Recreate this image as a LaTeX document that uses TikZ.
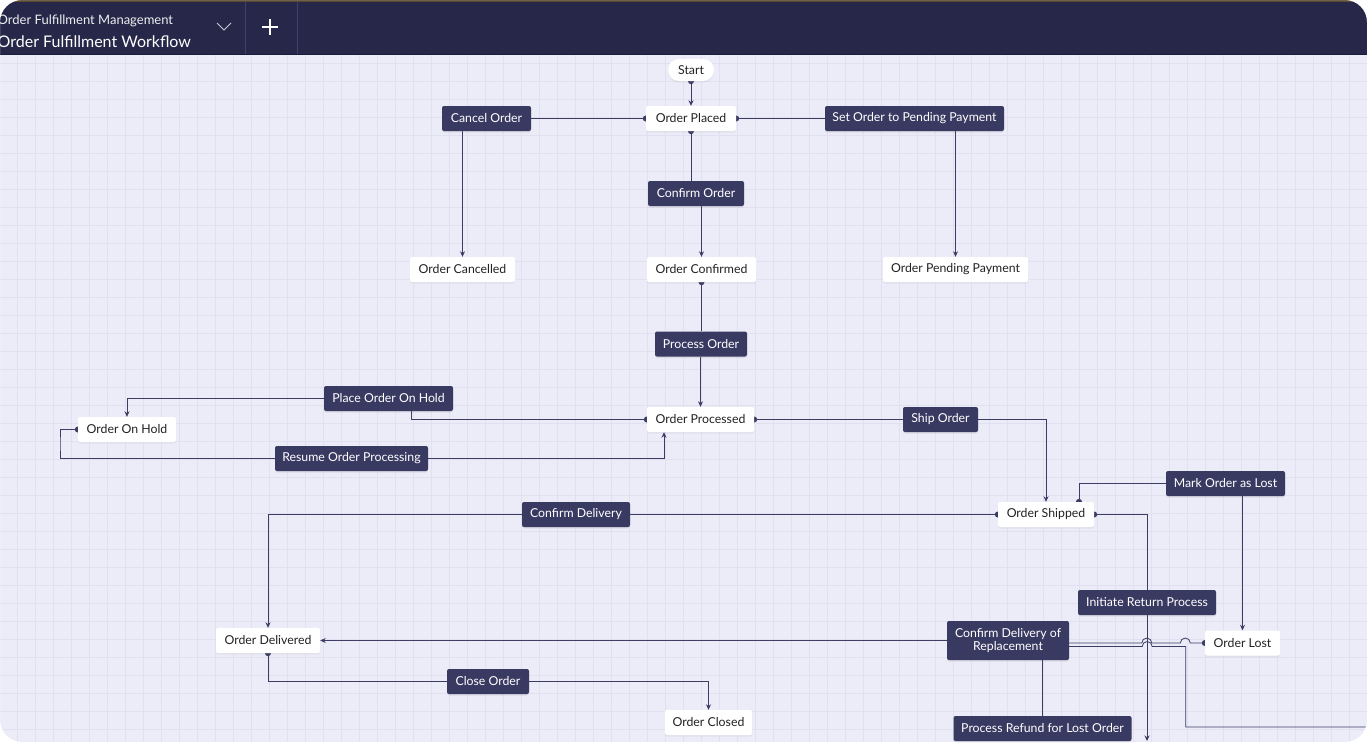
\documentclass[tikz,border=0pt]{standalone}
\usepackage{fontspec}
\setmainfont{Lato}
\usetikzlibrary{arrows.meta,shadows,calc}
\pgfdeclarelayer{bg}
\pgfdeclarelayer{edges}
\pgfsetlayers{bg,edges,main}
\definecolor{bgc}{HTML}{ECEBF8}
\definecolor{gridc}{HTML}{E1E0F1}
\definecolor{hdr}{HTML}{272849}
\definecolor{hdrline}{HTML}{1B1C38}
\definecolor{hdrdiv}{HTML}{40416A}
\definecolor{topline}{HTML}{5B4A30}
\definecolor{tbox}{HTML}{393A62}
\definecolor{lnc}{HTML}{3C3C64}
\definecolor{txt}{HTML}{222222}
\tikzset{
  st/.style={fill=white, rounded corners=2pt, minimum height=25pt, inner sep=0pt,
    font=\fontsize{12.3}{14}\selectfont, text=txt,
    drop shadow={shadow xshift=0pt, shadow yshift=-1.5pt, opacity=0.10}},
  tr/.style={fill=tbox, rounded corners=2pt, minimum height=25pt, inner sep=0pt,
    font=\fontsize{12.3}{14}\selectfont, text=white,
    drop shadow={shadow xshift=0pt, shadow yshift=-1.5pt, opacity=0.15}},
  ln/.style={draw=lnc, line width=0.8pt},
  arr/.style={ln, -{Stealth[length=5.5pt,width=5pt]}},
  sdot/.style={fill=lnc},
}
\begin{document}
\begin{tikzpicture}[x=1pt,y=-1pt]
\useasboundingbox (0,0) rectangle (1367,742);
% background grid
\begin{pgfonlayer}{bg}
\fill[bgc] (0,54) rectangle (1367,742);
\foreach \i in {0,...,75} \draw[gridc, line width=0.8pt] ({17.5+18*\i},54) -- ({17.5+18*\i},742);
\foreach \j in {3,...,41} \draw[gridc, line width=0.8pt] (0,{9+18*\j}) -- (1367,{9+18*\j});
\end{pgfonlayer}

% header
\fill[hdr] (0,0) rectangle (1367,54);
\fill[topline] (0,0) rectangle (1367,1.5);
\draw[hdrline, line width=1pt] (0,54) -- (1367,54);
\draw[hdrdiv, line width=0.8pt] (245,1.5) -- (245,54);
\draw[hdrdiv, line width=0.8pt] (297,1.5) -- (297,54);
\draw[color=white!75!hdr, line width=1pt] (217,23) -- (224,30) -- (231,23);
\draw[white, line width=1.2pt] (262,27) -- (278,27) (270,19) -- (270,35);
\node[anchor=base west, inner sep=0pt, font=\fontsize{13}{15}\selectfont, text=white!92!hdr] (h1) at (-2.5,24) {Order Fulfillment Management};
\node[anchor=base west, inner sep=0pt, font=\fontsize{16}{18}\selectfont, text=white] (h2) at (-2.5,47) {Order Fulfillment Workflow};

% nodes
\node[st, minimum width=46pt, minimum height=22pt, rounded corners=11pt] (start) at (691,70) {Start};
\node[st, minimum width=90pt] (op) at (691,118.5) {Order Placed};
\node[tr, minimum width=89pt] (co) at (486.5,118.5) {Cancel Order};
\node[tr, minimum width=179pt] (sp) at (914.5,118.5) {Set Order to Pending Payment};
\node[tr, minimum width=96pt] (cfo) at (696,193.5) {Confirm Order};
\node[st, minimum width=105pt] (oc) at (462.5,269.5) {Order Cancelled};
\node[st, minimum width=109pt] (ocf) at (701.5,269.5) {Order Confirmed};
\node[st, minimum width=145pt] (opp) at (955.5,269.5) {Order Pending Payment};
\node[tr, minimum width=92pt] (po) at (701,344) {Process Order};
\node[tr, minimum width=129pt] (ph) at (388.5,398.5) {Place Order On Hold};
\node[st, minimum width=98pt] (ooh) at (127,429.5) {Order On Hold};
\node[st, minimum width=107pt] (opr) at (700.5,419.5) {Order Processed};
\node[tr, minimum width=75pt] (so) at (940.5,419.5) {Ship Order};
\node[tr, minimum width=153pt] (ro) at (351.5,458.5) {Resume Order Processing};
\node[tr, minimum width=119pt] (ml) at (1225.5,483.5) {Mark Order as Lost};
\node[st, minimum width=96pt] (os) at (1046,514.5) {Order Shipped};
\node[tr, minimum width=108pt] (cd) at (576,514.5) {Confirm Delivery};
\node[tr, minimum width=138pt] (ir) at (1147,602.5) {Initiate Return Process};
\node[tr, minimum width=122pt, minimum height=39pt, align=center] (cdr) at (1008,640.5) {Confirm Delivery of\\[-1pt]Replacement};
\node[st, minimum width=75pt] (ol) at (1242.5,643) {Order Lost};
\node[st, minimum width=104pt] (od) at (268,640.5) {Order Delivered};
\node[tr, minimum width=82pt] (clo) at (488,681.5) {Close Order};
\node[st, minimum width=87pt] (ocl) at (708.5,722.5) {Order Closed};
\node[tr, minimum width=178pt] (prl) at (1042.5,728.5) {Process Refund for Lost Order};

\coordinate (lk) at (60,444);
\coordinate (ostop) at ($(os.north)+(33,0)$);
\coordinate (offb) at (1147,741);
\coordinate (offr) at (1367,727);

% connectors
\begin{pgfonlayer}{edges}
\draw[arr] (start.south) -- (op.north);
\draw[ln] (op.west) -- (co.east);
\draw[arr] (co.south -| oc.north) -- (oc.north);
\draw[ln] (op.east) -- (sp.west);
\draw[arr] (sp.south -| opp.north) -- (opp.north);
\draw[ln] (op.south) -- (op.south |- cfo.north);
\draw[arr] (cfo.south -| ocf.north) -- (ocf.north);
\draw[ln] (ocf.south) -- (ocf.south |- po.north);
\draw[arr] (po.south -| opr.north) -- (opr.north);
\draw[ln] (opr.west) -| ($(ph.south)+(22.5,0)$);
\draw[arr] (ph.west) -| (ooh.north);
\draw[ln] (ooh.west) -| (lk) |- (ro.west);
\draw[arr] (ro.east) -| ($(opr.south)+(-36.5,0)$);
\draw[ln] (opr.east) -- (so.west);
\draw[arr] (so.east) -| (os.north);
\draw[ln] (ostop) |- (ml.west);
\draw[arr] (ml.south -| ol.north) -- (ol.north);
\draw[ln] (os.west) -- (cd.east);
\draw[arr] (cd.west) -| (od.north);
\draw[ln] (os.east) -| (ir.north);
\draw[arr] (ir.south) -- (offb);
\draw[ln] (ol.west) -- ++(-14.5,0) arc[start angle=0, end angle=-180, radius=5]
  -- ++(-28.5,0) arc[start angle=0, end angle=-180, radius=5] -| (prl.north);
\draw[ln] ($(cdr.east)+(0,6)$) -- ++(73,0) arc[start angle=180, end angle=360, radius=5]
  -- ++(33.5,0) |- (offr);
\draw[arr] (cdr.west) -- (cdr.west -| od.east);
\draw[ln] (od.south) |- (clo.west);
\draw[arr] (clo.east) -| (ocl.north);
% source dots
\foreach \p in {start.south, op.west, op.east, op.south, ocf.south, opr.west, opr.east,
  ooh.west, os.west, os.east, ostop, ol.west, od.south}
  \fill[sdot] (\p) circle[radius=3];
\end{pgfonlayer}

% rounded window corners
\fill[white, even odd rule] (0,0) rectangle (1367,742) [rounded corners=22pt] (0,0) rectangle (1367,742);
\end{tikzpicture}
\end{document}
